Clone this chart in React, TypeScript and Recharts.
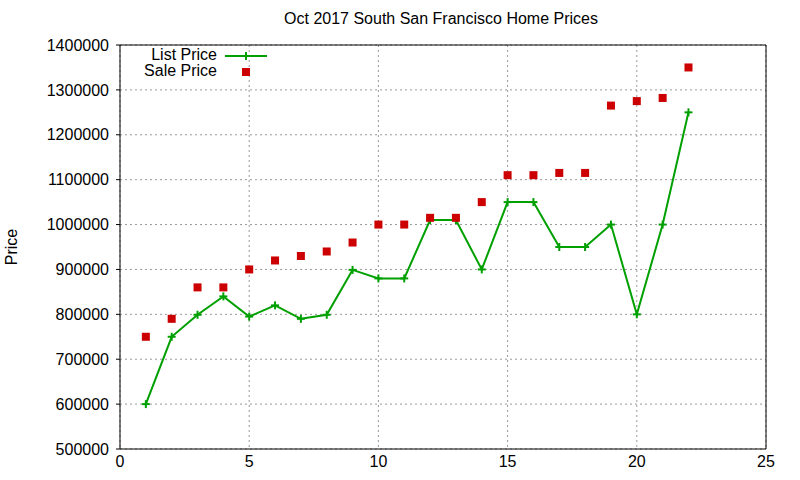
import React from 'react'
import {
	CartesianGrid,
	ComposedChart,
	Line,
	ReferenceLine,
	Scatter,
	XAxis,
	YAxis,
} from 'recharts'

const GREEN = '#00a000'
const RED = '#cc0000'
const FONT = '"Liberation Sans", Arial, sans-serif'

const days = [1, 2, 3, 4, 5, 6, 7, 8, 9, 10, 11, 12, 13, 14, 15, 16, 17, 18, 19, 20, 21, 22]
const listPrices = [
	600000, 750000, 799000, 840000, 795000, 820000, 790000, 799000, 899000, 880000, 880000,
	1010000, 1010000, 900000, 1050000, 1050000, 950000, 950000, 1000000, 800000, 1000000, 1250000,
]
const salePrices = [
	750000, 790000, 860000, 860000, 900000, 920000, 930000, 940000, 960000, 1000000, 1000000,
	1015000, 1015000, 1050000, 1110000, 1110000, 1115000, 1115000, 1265000, 1275000, 1282000, 1350000,
]
const xTicks = [0, 5, 10, 15, 20, 25]
const yTicks = [500000, 600000, 700000, 800000, 900000, 1000000, 1100000, 1200000, 1300000, 1400000]

const data = days.map((day, i) => ({ day, list: listPrices[i], sale: salePrices[i] }))

const PlusDot = (props: any) => {
	const { cx, cy, index } = props
	if (cx == null || cy == null) return null
	return (
		<g key={`p-${index}`}>
			<line x1={cx - 4} x2={cx + 4} y1={cy} y2={cy} stroke={GREEN} strokeWidth={2} />
			<line x1={cx} x2={cx} y1={cy - 4} y2={cy + 4} stroke={GREEN} strokeWidth={2} />
		</g>
	)
}

const Square = (props: any) => {
	const { cx, cy } = props
	return <rect x={cx - 4} y={cy - 4} width={8} height={8} fill={RED} />
}

const tickStyle = { fill: '#000', fontSize: 16, fontFamily: FONT }

const App = () => {
	return (
		<div style={{ position: 'absolute', left: 0, top: 0, width: 800, height: 480, background: '#fff', fontFamily: FONT }}>
			<div style={{ position: 'absolute', left: 441, top: 10, transform: 'translateX(-50%)', fontSize: 16, lineHeight: '18px', whiteSpace: 'nowrap' }}>
				Oct 2017 South San Francisco Home Prices
			</div>
			<div
				style={{
					position: 'absolute',
					left: 12,
					top: 247,
					transform: 'translate(-50%, -50%) rotate(-90deg)',
					fontSize: 16,
				}}
			>
				Price
			</div>
			<ComposedChart width={800} height={480} data={data} margin={{ top: 45, right: 34, bottom: 0, left: 0 }}>
				<CartesianGrid stroke="#999" strokeDasharray="2 3" />
				<XAxis
					dataKey="day"
					type="number"
					domain={[0, 25]}
					ticks={xTicks}
					height={31}
					stroke="#000"
					tickSize={0}
					tickMargin={7}
					tick={tickStyle}
				/>
				<YAxis
					type="number"
					domain={[500000, 1400000]}
					ticks={yTicks}
					width={120}
					stroke="#000"
					tickSize={4}
					tickMargin={7}
					tick={tickStyle}
				/>
				<ReferenceLine x={25} stroke="#000" />
				<ReferenceLine y={1400000} stroke="#000" />
				<Line
					dataKey="list"
					stroke={GREEN}
					strokeWidth={2}
					dot={<PlusDot />}
					activeDot={false}
					isAnimationActive={false}
				/>
				<Scatter dataKey="sale" shape={<Square />} isAnimationActive={false} />
			</ComposedChart>
			<div style={{ position: 'absolute', left: 110, top: 47, width: 107, textAlign: 'right', fontSize: 16, lineHeight: '16px' }}>
				<div>List Price</div>
				<div>Sale Price</div>
			</div>
			<svg style={{ position: 'absolute', left: 0, top: 0 }} width={300} height={90}>
				<line x1={225} x2={267} y1={56} y2={56} stroke={GREEN} strokeWidth={2} />
				<line x1={242} x2={250} y1={56} y2={56} stroke={GREEN} strokeWidth={2} />
				<line x1={246} x2={246} y1={52} y2={60} stroke={GREEN} strokeWidth={2} />
				<rect x={242} y={68} width={8} height={8} fill={RED} />
			</svg>
		</div>
	)
}

export default App
